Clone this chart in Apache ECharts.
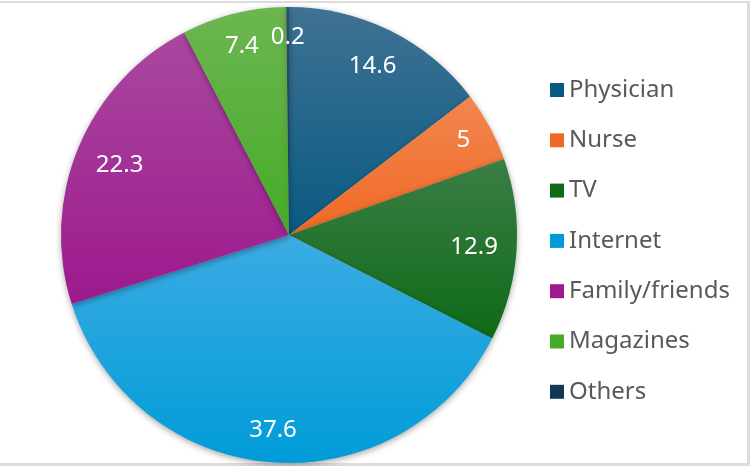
<!DOCTYPE html>
<html>
<head>
<meta charset="utf-8">
<script src="https://cdn.jsdelivr.net/npm/echarts@6/dist/echarts.min.js"></script>
<style>
html,body{margin:0;padding:0;background:#fff;}
#main{width:750px;height:466px;}
</style>
</head>
<body>
<div id="main"></div>
<script>
const categories = ['Physician','Nurse','TV','Internet','Family/friends','Magazines','Others'];
const values = [14.6, 5, 12.9, 37.6, 22.3, 7.4, 0.2];
const colorTop = ['#3f7294','#f2864f','#3b7e46','#3cabe3','#a9489f','#6cb650','#2f4e67'];
const colorBottom = ['#095a82','#f06924','#0e6a17','#009cd8','#9d198d','#46ab28','#113954'];

const CENTER = [289, 235];
const R = 228;
const LABEL_EDGE = 210;

const chart = echarts.init(document.getElementById('main'));
const grad = (i) => new echarts.graphic.LinearGradient(0, 0, 0, 1, [
  {offset: 0, color: colorTop[i]}, {offset: 1, color: colorBottom[i]}
]);
const data = categories.map((c, i) => ({
  name: c, value: values[i],
  itemStyle: {color: grad(i)}
}));
const labelData = categories.map((c, i) => ({name: c, value: values[i]}));
const font = "'Noto Sans', sans-serif";
chart.setOption({
  animation: false,
  color: colorBottom,
  legend: {
    orient: 'vertical',
    left: 545,
    top: 73,
    itemWidth: 14,
    itemHeight: 14,
    itemGap: 26.3,
    icon: 'rect',
    textStyle: {fontFamily: font, fontSize: 24, color: '#595959', padding: [0,0,0,0]},
    data: categories.map((c, i) => ({name: c, itemStyle: {color: colorBottom[i]}}))
  },
  graphic: [
    {type: 'rect', shape: {x: 0, y: 1, width: 750, height: 2}, style: {fill: '#dcdcdc'}, silent: true},
    {type: 'rect', shape: {x: 747, y: 1, width: 3, height: 465}, style: {fill: '#dcdcdc'}, silent: true},
    {type: 'rect', shape: {x: 0, y: 463, width: 750, height: 3}, style: {fill: '#dcdcdc'}, silent: true}
  ],
  series: [
    {
      type: 'pie',
      center: CENTER,
      radius: [0, R],
      startAngle: 90,
      clockwise: true,
      avoidLabelOverlap: false,
      label: {show: false},
      labelLine: {show: false},
      itemStyle: {
        shadowBlur: 6, shadowOffsetY: 2, shadowColor: 'rgba(0,0,0,0.35)',
        borderWidth: 0
      },
      emphasis: {disabled: true},
      data: data
    },
    {
      type: 'pie',
      center: CENTER,
      radius: [168, R],
      startAngle: 90,
      clockwise: true,
      avoidLabelOverlap: false,
      silent: true,
      legendHoverLink: false,
      itemStyle: {color: 'rgba(0,0,0,0)'},
      label: {
        show: true, position: 'inside',
        formatter: (p) => String(p.value),
        color: '#ffffff', fontFamily: font, fontSize: 24
      },
      labelLayout: function (p) {
        const r = p.labelRect;
        const cx = r.x + r.width / 2, cy = r.y + r.height / 2;
        const dx = cx - CENTER[0], dy = cy - CENTER[1];
        const len = Math.sqrt(dx * dx + dy * dy) || 1;
        const ux = dx / len, uy = dy / len;
        const ext = Math.abs(ux) * r.width / 2 + Math.abs(uy) * r.height / 2;
        const d = LABEL_EDGE - ext;
        return {x: CENTER[0] + ux * d, y: CENTER[1] + uy * d};
      },
      labelLine: {show: false},
      emphasis: {disabled: true},
      data: labelData
    }
  ]
});
</script>
</body>
</html>
